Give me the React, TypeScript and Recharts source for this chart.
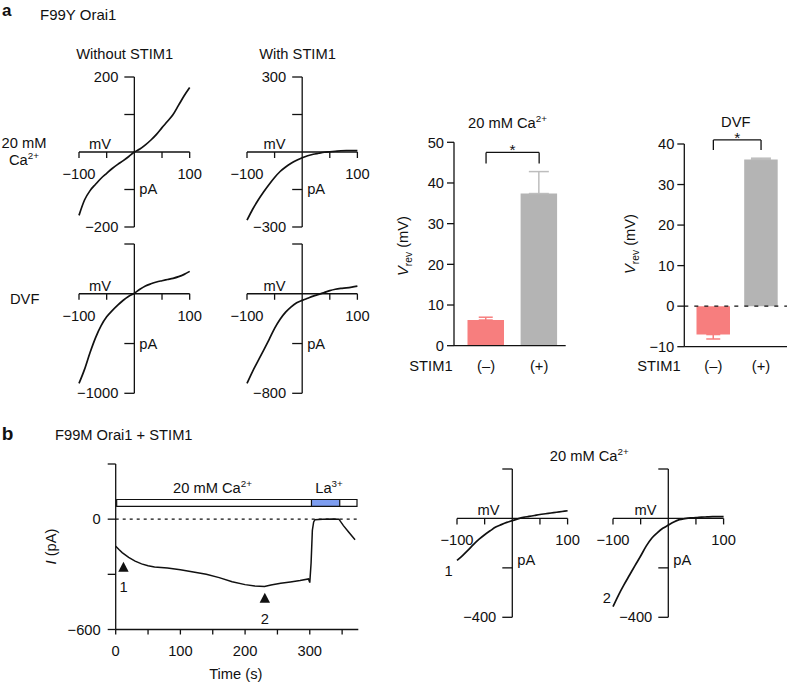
import React from "react";
import {
  LineChart, Line, XAxis, YAxis, ReferenceLine, ReferenceDot, ReferenceArea,
  BarChart, Bar, Cell, ErrorBar, ComposedChart, Scatter,
} from "recharts";

const FONT = '"Liberation Sans", Arial, Helvetica, sans-serif';
const FS = 14.7;
const INK = "#111";
const RED = "#f77e7e";
const GREY = "#b4b4b4";
const BLUE = "#7d9df0";

// ramp voltages shared by every I-V trace (mV)
const rampMv = [-100, -90, -80, -70, -60, -50, -40, -30, -20, -10, 0, 10, 20, 30, 40, 50, 60, 70, 80, 90, 100];

// panel a, F99Y Orai1 (pA)
const caNoStim = [-169, -128, -103, -86, -70, -57, -44, -33, -23, -12, 0, 8, 19, 32, 47, 65, 82, 100, 125, 150, 172];
const caStim = [-273, -230, -193, -160, -130, -102, -78, -60, -45, -33, -23, -15, -9, -5, -1, 1, 3, 5, 6, 6, 6];
const dvfNoStim = [-901, -760, -590, -440, -320, -232, -170, -115, -65, -25, 5, 45, 78, 100, 118, 131, 143, 155, 172, 195, 225];
const dvfStim = [-720, -625, -540, -455, -368, -278, -205, -148, -105, -72, -53, -36, -19, -5, 10, 25, 36, 43, 48, 54, 61];

// panel b, F99M Orai1 + STIM1 ramps at the two marked times (pA)
const f99mEarly = [-170, -150, -128, -105, -84, -66, -50, -35, -25, -16, -9, -2, 4, 8, 12, 16, 19, 22, 25, 28, 31];
const f99mPeak = [-357, -310, -268, -229, -190, -152, -112, -80, -58, -40, -27, -14, -5, -1, 2, 3, 5, 6, 7, 7, 7];

// Vrev summary bars
const stimCats = ["(\u2013)", "(+)"];
const caVrev = [6.3, 37.4];
const caSem = [0.7, 5.4];
const dvfVrev = [-7.0, 36.2];
const dvfSem = [1.1, 0.3];

// panel b time course
const traceT = [0, 5, 10, 20, 30, 40, 50, 60, 80, 100, 120, 140, 160, 180, 200, 215, 230, 240, 255, 270, 285, 298, 300, 302, 304, 306, 308, 320, 335, 345, 352, 360, 370];
const traceI = [-147, -165, -182, -208, -228, -243, -253, -260, -266, -275, -287, -300, -318, -340, -356, -363, -366, -358, -349, -342, -334, -325, -345, -240, -60, -15, -3, 0, 1, 0, -35, -70, -112];
const markT = [12, 230.5];
const markI = [-268, -437];
const markName = ["1", "2"];
const timeTicks = [0, 50, 100, 150, 200, 250, 300, 350];
const currentTicks = [-600, -300, 0, 300];

const minus = (v: number) => (v < 0 ? `\u2212${Math.abs(v)}` : `${v}`);
const ivXTicks = [-100, -50, 50, 100];

type Box = { left: number; right: number; top: number; bottom: number };
type IVProps = {
  pa: number[];
  box: Box;
  yDomain: [number, number];
  yTicks: number[];
  yLabelled: number[];
  mvAt: number;
  paAt: number;
  tag?: { text: string; x: number; y: number };
};

function IVPlot({ pa, box, yDomain, yTicks, yLabelled, mvAt, paAt, tag }: IVProps) {
  const m = { top: 12, right: 22, bottom: 32, left: 24 };
  const data = rampMv.map((v, k) => ({ v, i: pa[k] }));
  const [yMin, yMax] = yDomain;
  return (
    <div style={{ position: "absolute", left: box.left - m.left, top: box.top - m.top }}>
      <LineChart
        width={box.right - box.left + m.left + m.right}
        height={box.bottom - box.top + m.top + m.bottom}
        data={data}
        margin={m}
      >
        <XAxis type="number" dataKey="v" domain={[-100, 100]} hide />
        <YAxis type="number" domain={yDomain} hide />
        <ReferenceLine segment={[{ x: -100, y: 0 }, { x: 100, y: 0 }]} stroke={INK} strokeWidth={1.3} />
        <ReferenceLine segment={[{ x: 0, y: yMin }, { x: 0, y: yMax }]} stroke={INK} strokeWidth={1.3} />
        {ivXTicks.map((t) => (
          <ReferenceDot
            key={`x${t}`}
            x={t}
            y={0}
            shape={(d: any) => (
              <g>
                <line x1={d.cx} y1={d.cy} x2={d.cx} y2={d.cy + 6} stroke={INK} strokeWidth={1.3} />
                {Math.abs(t) === 100 && (
                  <text x={d.cx} y={d.cy + 27} textAnchor="middle" fontSize={FS} fill={INK}>{minus(t)}</text>
                )}
              </g>
            )}
          />
        ))}
        {yTicks.map((t) => (
          <ReferenceDot
            key={`y${t}`}
            x={0}
            y={t}
            shape={(d: any) => (
              <g>
                <line x1={d.cx - 10} y1={d.cy} x2={d.cx} y2={d.cy} stroke={INK} strokeWidth={1.3} />
                {yLabelled.includes(t) && (
                  <text x={d.cx - 16} y={d.cy + 5.2} textAnchor="end" fontSize={FS} fill={INK}>{minus(t)}</text>
                )}
              </g>
            )}
          />
        ))}
        <ReferenceDot
          x={mvAt}
          y={0}
          shape={(d: any) => (
            <text x={d.cx} y={d.cy - 3} textAnchor="middle" fontSize={FS} fill={INK}>mV</text>
          )}
        />
        <ReferenceDot
          x={0}
          y={paAt}
          shape={(d: any) => (
            <text x={d.cx + 5} y={d.cy + 5} fontSize={FS} fill={INK}>pA</text>
          )}
        />
        {tag && (
          <ReferenceDot
            x={tag.x}
            y={tag.y}
            ifOverflow="visible"
            shape={(d: any) => (
              <text x={d.cx} y={d.cy + 5} textAnchor="middle" fontSize={FS} fill={INK}>{tag.text}</text>
            )}
          />
        )}
        <Line dataKey="i" type="monotone" stroke={INK} strokeWidth={1.7} dot={false} isAnimationActive={false} />
      </LineChart>
    </div>
  );
}

type BarFrame = {
  left: number; top: number; width: number; height: number;
  margin: { top: number; right: number; bottom: number; left: number };
  tickGap: number;
};

function VrevBars({ vals, sem, frame, yDomain, yTicks, pad, barSize, bracket, zeroDash }: {
  vals: number[]; sem: number[]; frame: BarFrame; yDomain: [number, number]; yTicks: number[];
  pad: { left: number; right: number }; barSize: number; bracket: [number, number]; zeroDash?: boolean;
}) {
  const data = stimCats.map((c, k) => {
    const e = vals[k] >= 0 ? [0, sem[k]] : [sem[k], 0];
    return { c, v: vals[k], errRed: k === 0 ? e : null, errGrey: k === 1 ? e : null };
  });
  const [top, leg] = bracket;
  return (
    <div style={{ position: "absolute", left: frame.left, top: frame.top }}>
      <BarChart width={frame.width} height={frame.height} data={data} margin={frame.margin}>
        <XAxis
          dataKey="c"
          tickLine={false}
          tickSize={0}
          tickMargin={frame.tickGap}
          padding={pad}
          axisLine={{ stroke: INK, strokeWidth: 1.3 }}
          tick={{ fill: INK, fontSize: FS }}
        />
        <YAxis
          type="number"
          domain={yDomain}
          ticks={yTicks}
          interval={0}
          width={54}
          tickSize={7}
          tickMargin={3}
          axisLine={{ stroke: INK, strokeWidth: 1.3 }}
          tickLine={{ stroke: INK, strokeWidth: 1.3 }}
          tick={{ fill: INK, fontSize: FS }}
          tickFormatter={minus}
        />
        {zeroDash && <ReferenceLine y={0} stroke={INK} strokeWidth={1.2} strokeDasharray="4 6" />}
        <Bar dataKey="v" barSize={barSize} isAnimationActive={false}>
          {data.map((d, k) => (
            <Cell key={d.c} fill={k === 0 ? RED : GREY} />
          ))}
          <ErrorBar dataKey="errRed" width={7} stroke={RED} strokeWidth={1.5} />
          <ErrorBar dataKey="errGrey" width={10} stroke="#bdbdbd" strokeWidth={1.5} />
        </Bar>
        <ReferenceLine
          segment={[{ x: stimCats[0], y: top }, { x: stimCats[1], y: top }]}
          stroke={INK}
          strokeWidth={1.3}
          ifOverflow="visible"
          label={{ value: "*", position: "top", offset: -3, fontSize: 15.5, fill: INK }}
        />
        <ReferenceLine segment={[{ x: stimCats[0], y: top }, { x: stimCats[0], y: leg }]} stroke={INK} strokeWidth={1.3} ifOverflow="visible" />
        <ReferenceLine segment={[{ x: stimCats[1], y: top }, { x: stimCats[1], y: leg }]} stroke={INK} strokeWidth={1.3} ifOverflow="visible" />
      </BarChart>
    </div>
  );
}

function TimeCourse() {
  const trace = traceT.map((t, k) => ({ t, i: traceI[k] }));
  const marks = markT.map((t, k) => ({ t, i: markI[k], n: markName[k] }));
  return (
    <div style={{ position: "absolute", left: 40, top: 440 }}>
      <ComposedChart width={330} height={219.5} data={trace} margin={{ top: 24, right: 11.7, bottom: 0, left: 0 }}>
        <XAxis
          type="number"
          dataKey="t"
          domain={[0, 375]}
          ticks={timeTicks}
          interval={0}
          tickSize={5}
          tickMargin={11}
          tickFormatter={(v: number) => (v % 100 === 0 ? `${v}` : "")}
          axisLine={{ stroke: INK, strokeWidth: 1.3 }}
          tickLine={{ stroke: INK, strokeWidth: 1.3 }}
          tick={{ fill: INK, fontSize: FS }}
        />
        <YAxis
          type="number"
          domain={[-600, 300]}
          ticks={currentTicks}
          interval={0}
          width={75.7}
          tickSize={8}
          tickMargin={7}
          tickFormatter={(v: number) => (v === -600 || v === 0 ? minus(v) : "")}
          axisLine={{ stroke: INK, strokeWidth: 1.3 }}
          tickLine={{ stroke: INK, strokeWidth: 1.3 }}
          tick={{ fill: INK, fontSize: FS }}
        />
        <ReferenceLine y={0} stroke={INK} strokeWidth={1.2} strokeDasharray="3 4" />
        <ReferenceArea x1={1.5} x2={373} y1={70} y2={107} fill="#fff" fillOpacity={1} stroke={INK} strokeWidth={1.2} />
        <ReferenceArea x1={302.6} x2={346.3} y1={70} y2={107} fill={BLUE} fillOpacity={1} stroke={INK} strokeWidth={1.2} />
        <Line dataKey="i" type="linear" stroke={INK} strokeWidth={1.5} dot={false} isAnimationActive={false} />
        <Scatter
          data={marks}
          dataKey="i"
          isAnimationActive={false}
          shape={(p: any) => (
            <g>
              <path d={`M${p.cx},${p.cy - 6.7}L${p.cx + 5.2},${p.cy + 3.3}L${p.cx - 5.2},${p.cy + 3.3}Z`} fill={INK} />
              <text x={p.cx} y={p.cy + 24} textAnchor="middle" fontSize={FS} fill={INK}>{p.payload.n}</text>
            </g>
          )}
        />
      </ComposedChart>
    </div>
  );
}

const Sup = ({ s }: { s: string }) => <tspan dy={-6} fontSize={9.8}>{s}</tspan>;

export default function App() {
  const rowCa = { top: 76.7, bottom: 226.7 };
  const rowDvf = { top: 244, bottom: 393.3 };
  const colA = { left: 79.3, right: 190 };
  const colB = { left: 247.3, right: 357.7 };
  const rowB = { top: 469, bottom: 617.3 };
  return (
    <div style={{ position: "absolute", left: 0, top: 0, width: 788, height: 683, background: "#fff", fontFamily: FONT, color: INK, overflow: "hidden" }}>
      <IVPlot pa={caNoStim} box={{ ...colA, ...rowCa }} yDomain={[-200, 200]} yTicks={[-200, -100, 100, 200]} yLabelled={[-200, 200]} mvAt={-62} paAt={-100} />
      <IVPlot pa={caStim} box={{ ...colB, ...rowCa }} yDomain={[-300, 300]} yTicks={[-300, -150, 150, 300]} yLabelled={[-300, 300]} mvAt={-50} paAt={-150} />
      <IVPlot pa={dvfNoStim} box={{ ...colA, ...rowDvf }} yDomain={[-1000, 500]} yTicks={[-1000, -500, 500]} yLabelled={[-1000]} mvAt={-62} paAt={-500} />
      <IVPlot pa={dvfStim} box={{ ...colB, ...rowDvf }} yDomain={[-800, 400]} yTicks={[-800, -400, 400]} yLabelled={[-800]} mvAt={-50} paAt={-400} />
      <IVPlot pa={f99mEarly} box={{ left: 456.7, right: 567.3, ...rowB }} yDomain={[-400, 200]} yTicks={[-400, -200, 200]} yLabelled={[-400]} mvAt={-43} paAt={-170} tag={{ text: markName[0], x: -115, y: -213 }} />
      <IVPlot pa={f99mPeak} box={{ left: 612.7, right: 723.3, ...rowB }} yDomain={[-400, 200]} yTicks={[-400, -200, 200]} yLabelled={[-400]} mvAt={-41} paAt={-170} tag={{ text: markName[1], x: -111, y: -322 }} />

      <VrevBars
        vals={caVrev}
        sem={caSem}
        frame={{ left: 400, top: 100, width: 170, height: 280.7, margin: { top: 42.3, right: 4.3, bottom: 5, left: 0 }, tickGap: 14.5 }}
        yDomain={[0, 50]}
        yTicks={[0, 10, 20, 30, 40, 50]}
        pad={{ left: 5.5, right: 0 }}
        barSize={36.5}
        bracket={[47.5, 44.8]}
      />
      <VrevBars
        vals={dvfVrev}
        sem={dvfSem}
        frame={{ left: 630, top: 100, width: 158, height: 281.7, margin: { top: 44, right: 1, bottom: 5, left: 0.3 }, tickGap: 13.5 }}
        yDomain={[-10, 40]}
        yTicks={[-10, 0, 10, 20, 30, 40]}
        pad={{ left: 5.2, right: 2.1 }}
        barSize={33.5}
        bracket={[41, 38.5]}
        zeroDash
      />

      <TimeCourse />

      <svg width={788} height={683} style={{ position: "absolute", left: 0, top: 0, pointerEvents: "none" }} fontFamily={FONT} fill={INK}>
        <text x={2} y={15.6} fontSize={17} fontWeight="bold">a</text>
        <text x={40} y={20} fontSize={15}>F99Y Orai1</text>
        <text x={124.7} y={59.3} fontSize={FS} textAnchor="middle">Without STIM1</text>
        <text x={297.5} y={59.3} fontSize={FS} textAnchor="middle">With STIM1</text>
        <text x={24} y={148.3} fontSize={FS} textAnchor="middle">20 mM</text>
        <text x={24} y={165} fontSize={FS} textAnchor="middle">Ca<Sup s="2+" /></text>
        <text x={10} y={304} fontSize={FS}>DVF</text>

        <text x={507.5} y={128.3} fontSize={FS} textAnchor="middle">20 mM Ca<Sup s="2+" /></text>
        <text x={735.8} y={127.3} fontSize={FS} textAnchor="middle">DVF</text>
        <text x={409.3} y={371} fontSize={FS}>STIM1</text>
        <text x={637.3} y={371} fontSize={FS}>STIM1</text>
        <text transform="translate(408,246) rotate(-90)" fontSize={FS} textAnchor="middle">
          <tspan fontStyle="italic">V</tspan><tspan fontSize={10.3} dy={4}>rev</tspan><tspan dy={-4}> (mV)</tspan>
        </text>
        <text transform="translate(635,244) rotate(-90)" fontSize={FS} textAnchor="middle">
          <tspan fontStyle="italic">V</tspan><tspan fontSize={10.3} dy={4}>rev</tspan><tspan dy={-4}> (mV)</tspan>
        </text>

        <text x={1.7} y={440} fontSize={19} fontWeight="bold">b</text>
        <text x={55} y={440} fontSize={FS}>F99M Orai1 + STIM1</text>
        <text x={212.5} y={493.3} fontSize={FS} textAnchor="middle">20 mM Ca<Sup s="2+" /></text>
        <text x={329} y={493.3} fontSize={FS} textAnchor="middle">La<Sup s="3+" /></text>
        <text transform="translate(55.5,546.5) rotate(-90)" fontSize={FS} textAnchor="middle">
          <tspan fontStyle="italic">I</tspan> (pA)
        </text>
        <text x={235.8} y={679} fontSize={FS} textAnchor="middle">Time (s)</text>
        <text x={589.2} y={460.7} fontSize={FS} textAnchor="middle">20 mM Ca<Sup s="2+" /></text>
      </svg>
    </div>
  );
}
